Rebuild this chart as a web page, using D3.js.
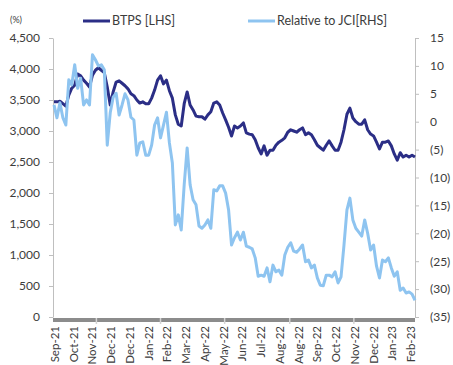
<!DOCTYPE html>
<html>
<head>
<meta charset="utf-8">
<script src="https://cdn.jsdelivr.net/npm/d3@7"></script>
<style>
  body { margin: 0; background: #fff; }
  text { font-family: Lato, "Open Sans", sans-serif; fill: #3c3c3c; }
</style>
</head>
<body>
<svg id="chart" width="453" height="365"></svg>
<script>
// BTPS share price (LHS), sampled every 3 trading days
const btps = [
  3470, 3470, 3480, 3440, 3400, 3580, 3690, 3740, 3920, 3890,
  3820, 3770, 3710, 3900, 3980, 4020, 3980, 3940, 3710, 3420,
  3630, 3790, 3810, 3770, 3730, 3680, 3600, 3570, 3500, 3450,
  3470, 3440, 3440, 3530, 3660, 3820, 3890, 3760, 3820, 3650,
  3530, 3260, 3110, 3080, 3440, 3630, 3420, 3340, 3240, 3230,
  3230, 3190, 3260, 3310, 3450, 3470, 3420, 3290, 3180, 3060,
  2920, 3080, 3050, 3080, 3130, 2970, 2950, 2940, 2860, 2730,
  2630, 2760, 2610, 2690, 2690, 2770, 2820, 2850, 2890, 2980,
  3020, 3000, 2980, 3020, 3050, 2940, 2970, 2940, 2860, 2770,
  2730, 2690, 2770, 2840, 2760, 2690, 2690, 2820, 3020, 3270,
  3370, 3210, 3150, 3110, 3110, 3180, 3020, 2950, 2920, 2820,
  2710, 2820, 2820, 2840, 2760, 2630, 2530, 2650, 2580, 2610,
  2580, 2610, 2580
];

// Performance relative to JCI in % (RHS), same sampling
const relJci = [
   3.0,   0.7,   3.4,   0.7,  -0.6,   7.5,   6.6,  10.2,   6.0,   7.8,
   3.0,   3.9,   3.0,  12.0,  11.1,  10.0,  10.2,   9.3,  -4.2,   1.6,
   4.4,   5.1,   1.2,   3.0,   5.0,   3.9,   0.8,   0.3,  -6.0,  -3.8,
  -3.6,  -6.0,  -6.0,  -4.2,  -0.6,   0.7,  -2.9,  -0.6,   1.7,  -3.8,
  -7.4, -18.5, -16.7, -19.4, -11.3,  -4.7, -11.3, -14.0, -14.9, -18.7,
 -19.1, -18.5, -17.6, -19.1, -12.2, -12.4, -11.5, -11.5, -12.8, -15.8,
 -22.1, -20.8, -19.8, -21.2, -19.8, -22.3, -22.5, -22.8, -24.4, -27.7,
 -27.5, -27.7, -26.2, -28.7, -25.7, -26.9, -26.6, -27.5, -23.9, -22.5,
 -21.7, -23.2, -23.4, -22.8, -22.1, -25.1, -24.8, -26.2, -25.7, -28.0,
 -29.3, -29.4, -27.5, -27.5, -27.8, -26.9, -28.9, -27.8, -22.1, -15.8,
 -13.7, -17.6, -19.1, -19.8, -20.5, -17.6, -20.0, -23.0, -22.1, -25.9,
 -28.0, -24.8, -25.1, -24.4, -26.2, -27.7, -26.9, -30.2, -29.8, -30.7,
 -30.5, -30.9, -32.0
];

const dayStep = 3;
const lastDay = 366;

// Category labels, one every 19 trading days starting at day 1
const monthLabels = [
  "Sep-21", "Oct-21", "Nov-21", "Dec-21", "Dec-21", "Jan-22", "Feb-22",
  "Mar-22", "Apr-22", "May-22", "Jun-22", "Jul-22", "Aug-22", "Aug-22",
  "Sep-22", "Oct-22", "Nov-22", "Dec-22", "Jan-23", "Feb-23"
];
const labelStart = 1;
const labelEvery = 19;
const tickDays = [43, 108, 173, 239, 304];

const leftTicks = [0, 500, 1000, 1500, 2000, 2500, 3000, 3500, 4000, 4500];
const rightTicks = [15, 10, 5, 0, -5, -10, -15, -20, -25, -30, -35];

const seriesNames = ["BTPS [LHS]", "Relative to JCI[RHS]"];
const colors = ["#2b2e86", "#8ec4f0"];

const svg = d3.select("#chart");

const x = d3.scaleLinear().domain([0, lastDay]).range([54, 415]);
const yL = d3.scaleLinear().domain([0, 4500]).range([317, 38]);
const yR = d3.scaleLinear().domain([-35, 15]).range([317, 38]);

// Left axis
const gL = svg.append("g").attr("transform", "translate(53,0)")
  .call(d3.axisLeft(yL).tickValues(leftTicks).tickFormat(d3.format(","))
    .tickSize(4).tickSizeOuter(0).tickPadding(9));
gL.selectAll("path.domain").attr("stroke", "#bfbfbf");
gL.selectAll(".tick line").attr("stroke", "#bfbfbf");
gL.selectAll(".tick text").style("font-size", "12px").attr("fill", "#3c3c3c")
  .style("font-family", "Lato, 'Open Sans', sans-serif");

// Right axis
const gR = svg.append("g").attr("transform", "translate(415,0)")
  .call(d3.axisRight(yR).tickValues(rightTicks)
    .tickFormat(d => d < 0 ? "(" + (-d) + ")" : String(d))
    .tickSize(4).tickSizeOuter(0).tickPadding(11));
gR.selectAll("path.domain").attr("stroke", "#bfbfbf");
gR.selectAll(".tick line").attr("stroke", "#bfbfbf");
gR.selectAll(".tick text").style("font-size", "12px").attr("fill", "#3c3c3c")
  .style("font-family", "Lato, 'Open Sans', sans-serif");

// Bottom category axis: thick base bar with light tick marks
svg.append("line")
  .attr("x1", 53).attr("x2", 415).attr("y1", 320).attr("y2", 320)
  .attr("stroke", "#8c8c8c").attr("stroke-width", 4);
svg.selectAll("line.xtick").data(tickDays).join("line")
  .attr("class", "xtick")
  .attr("x1", d => x(d)).attr("x2", d => x(d))
  .attr("y1", 318).attr("y2", 324)
  .attr("stroke", "#d4d4d4").attr("stroke-width", 1.5);

svg.selectAll("text.xlab").data(monthLabels).join("text")
  .attr("class", "xlab")
  .attr("transform", (d, k) => `translate(${x(labelStart + k * labelEvery)},326) rotate(-90)`)
  .attr("text-anchor", "end")
  .attr("dy", "0.35em")
  .style("font-size", "11.5px")
  .text(d => d);

// Series lines
const lineL = d3.line().x((d, i) => x(i * dayStep)).y(d => yL(d));
const lineR = d3.line().x((d, i) => x(i * dayStep)).y(d => yR(d));

svg.append("path").datum(btps)
  .attr("d", lineL).attr("fill", "none")
  .attr("stroke", colors[0]).attr("stroke-width", 3)
  .attr("stroke-linejoin", "round");

svg.append("path").datum(relJci)
  .attr("d", lineR).attr("fill", "none")
  .attr("stroke", colors[1]).attr("stroke-width", 3)
  .attr("stroke-linejoin", "round");

// Unit label and legend
svg.append("text").attr("x", 10).attr("y", 23)
  .style("font-size", "9px").text("(%)");

const legendX = [83, 248];
seriesNames.forEach((name, k) => {
  svg.append("line")
    .attr("x1", legendX[k]).attr("x2", legendX[k] + 27)
    .attr("y1", 21).attr("y2", 21)
    .attr("stroke", colors[k]).attr("stroke-width", 3);
  svg.append("text")
    .attr("x", legendX[k] + 29).attr("y", 25)
    .style("font-size", "12.5px").text(name);
});
</script>
</body>
</html>
